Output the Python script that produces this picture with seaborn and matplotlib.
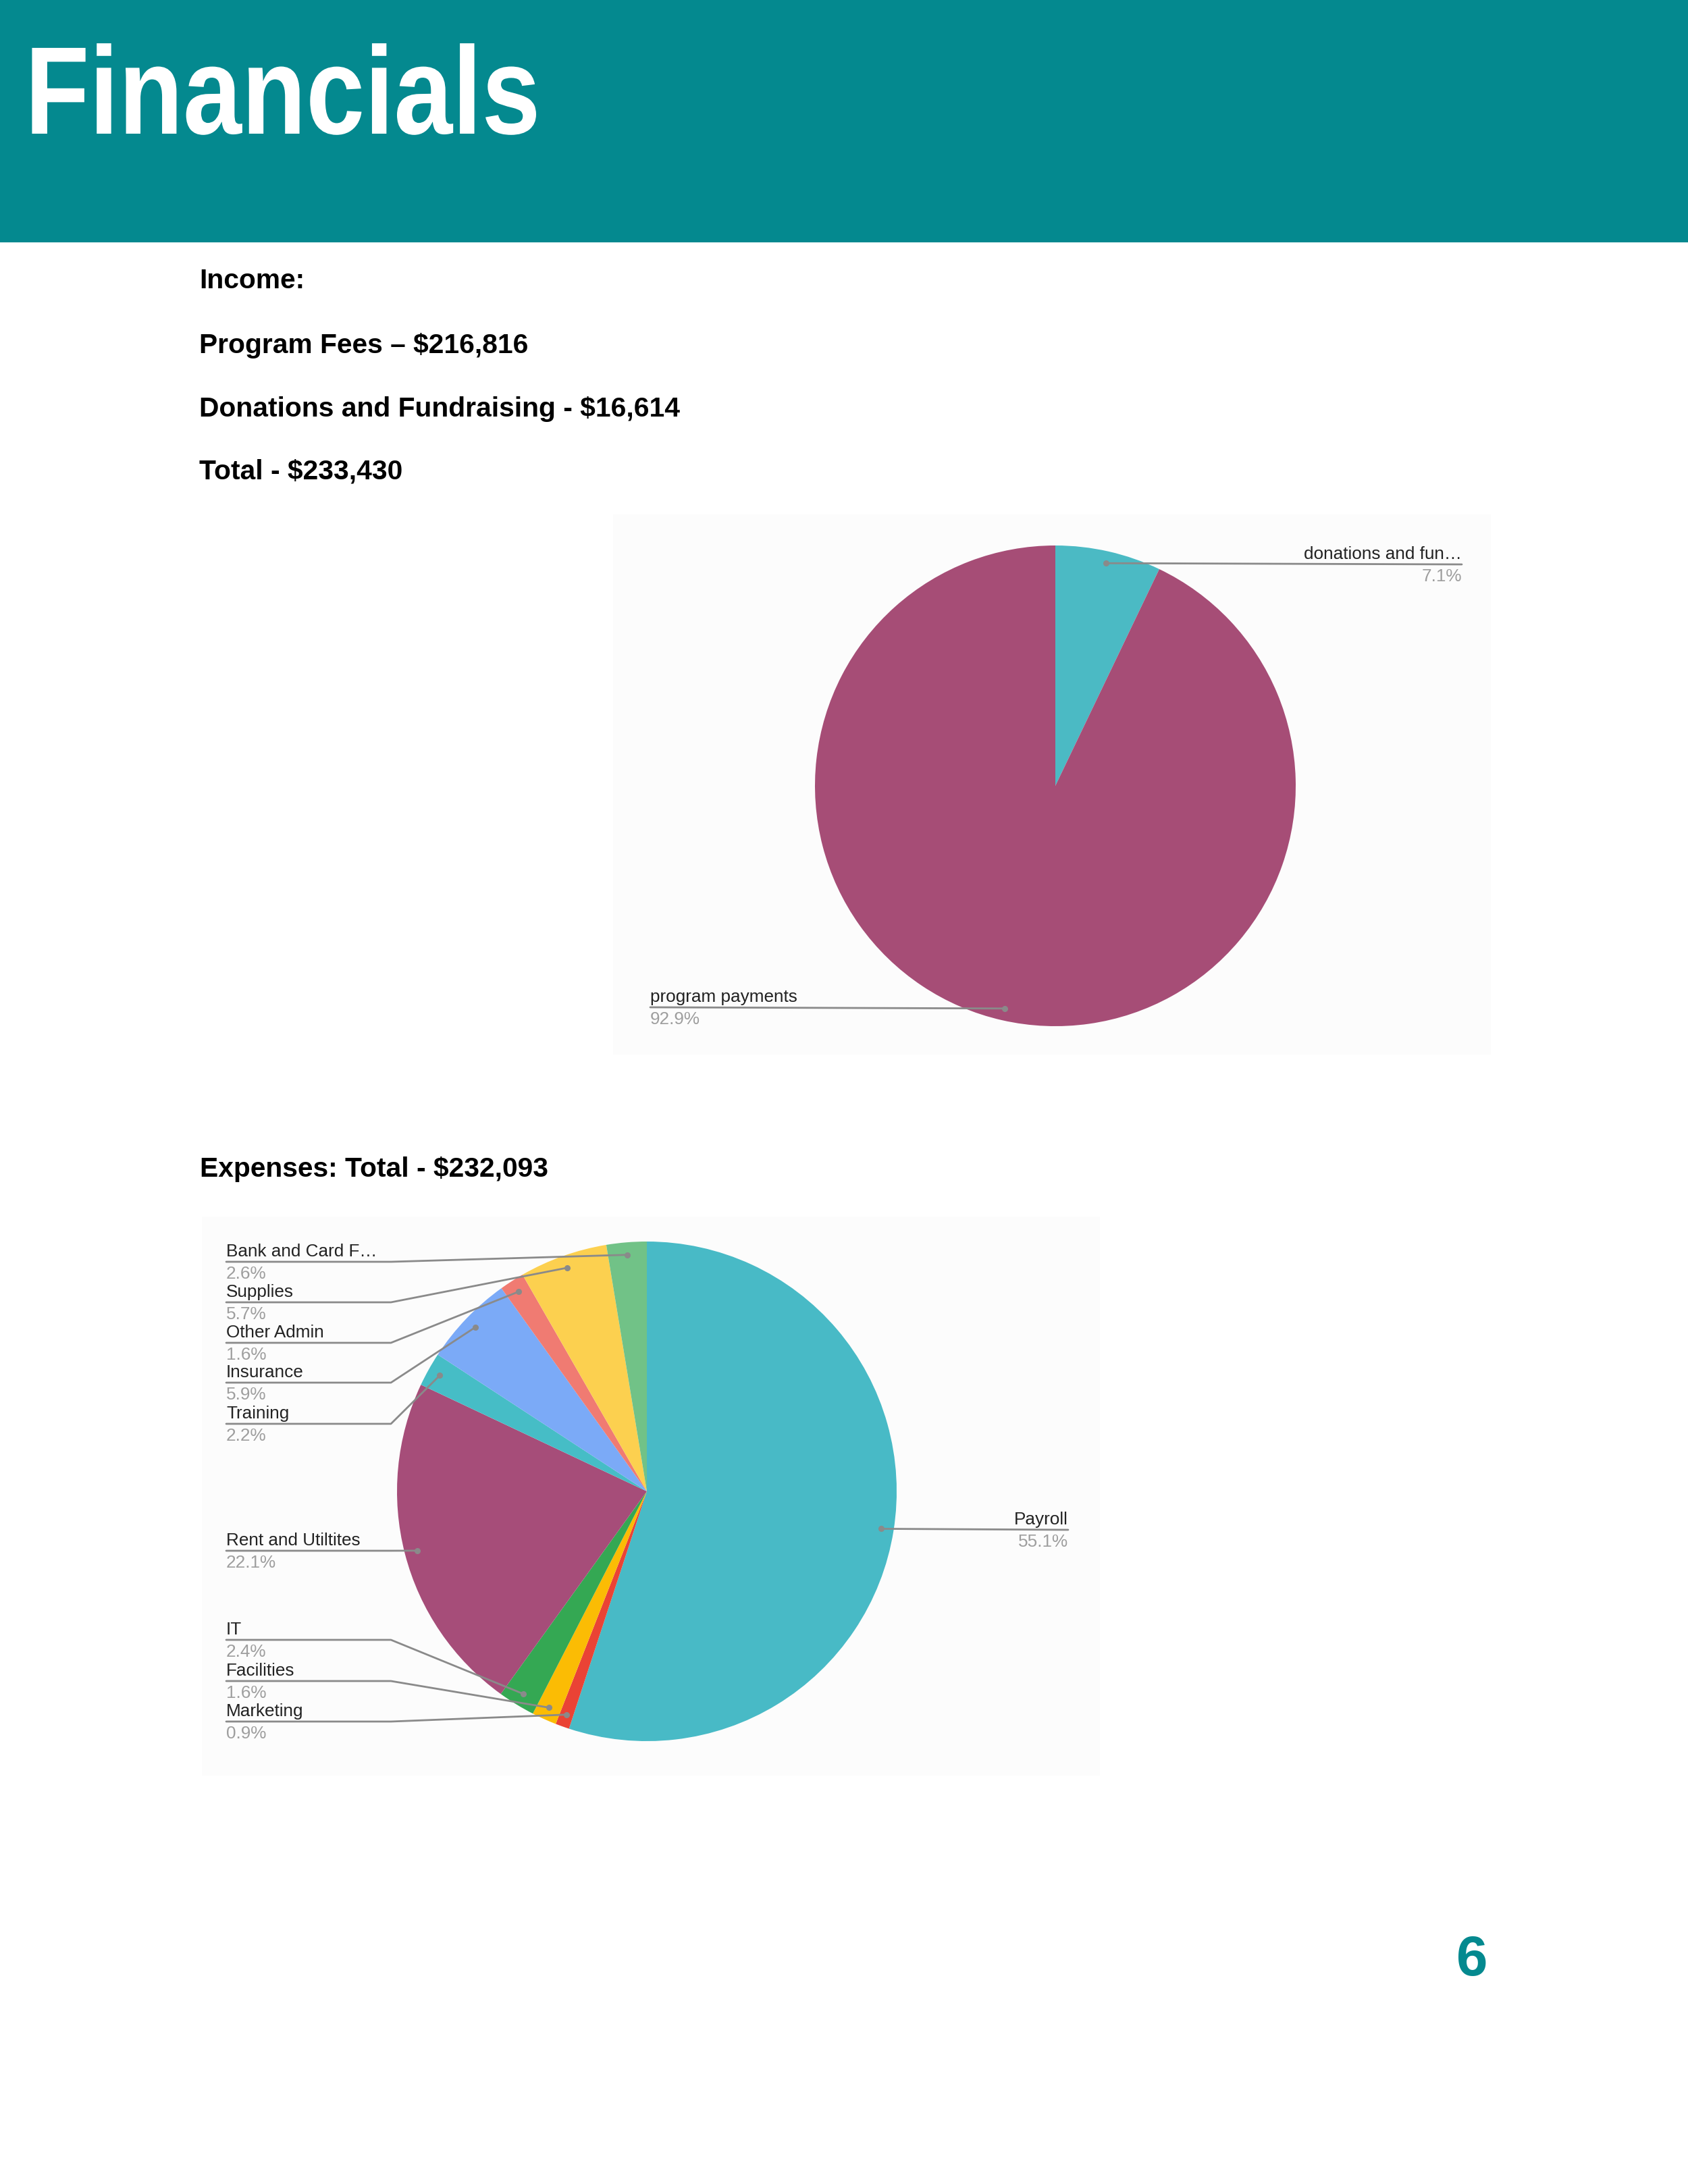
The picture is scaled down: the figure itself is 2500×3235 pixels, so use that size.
import matplotlib
matplotlib.use("Agg")
import matplotlib.pyplot as plt
import matplotlib.patches as mpatches
from matplotlib.patheffects import AbstractPathEffect
from matplotlib.transforms import Affine2D
import seaborn as sns
import numpy as np

# income data
income_labels = ["donations and fun\u2026", "program payments"]
income_values = [16614, 216816]
income_colors = ["#4bbac4", "#a64d76"]

# expenses data (percent of total)
expense_labels = ["Payroll", "Marketing", "Facilities", "IT", "Rent and Utiltites",
                  "Training", "Insurance", "Other Admin", "Supplies", "Bank and Card F\u2026"]
expense_values = [55.1, 0.9, 1.6, 2.4, 22.1, 2.2, 5.9, 1.6, 5.7, 2.6]
expense_colors = ["#48bac6", "#ea4335", "#fbbc04", "#34a853", "#a64d79",
                  "#46bdc6", "#7baaf7", "#f07b72", "#fcd04f", "#71c287"]

header_text = "Financials"
income_lines = ["Income:", "Program Fees \u2013 $216,816",
                "Donations and Fundraising - $16,614", "Total - $233,430"]
expense_heading = "Expenses: Total - $232,093"
page_number = "6"

TEAL = "#04898f"
W, H = 2500, 3235


class Squeeze(AbstractPathEffect):
    # narrow the glyphs horizontally (no condensed font installed)
    def __init__(self, sx):
        super().__init__()
        self.sx = sx

    def draw_path(self, renderer, gc, tpath, affine, rgbFace=None):
        renderer.draw_path(gc, tpath, Affine2D().scale(self.sx, 1) + affine, rgbFace)


sns.set_theme(style="white")
plt.rcParams["font.family"] = ["Liberation Sans", "DejaVu Sans"]

fig = plt.figure(figsize=(W / 100, H / 100), dpi=100)
ax = fig.add_axes([0, 0, 1, 1])


def py(y):
    # page y (from top) -> axes y (from bottom)
    return H - y


# header band
ax.add_patch(mpatches.Rectangle((0, py(359)), W, 359, color=TEAL, lw=0, zorder=1))
ax.text(37, py(198), header_text, color="white", fontsize=133, fontweight="bold",
        ha="left", va="baseline", zorder=2, path_effects=[Squeeze(0.845)])

for txt, yb in zip(income_lines, [427, 523, 617, 709]):
    ax.text(295, py(yb), txt, fontsize=29.3, fontweight="bold", color="black",
            ha="left", va="baseline")
ax.text(296, py(1743), expense_heading, fontsize=29.3, fontweight="bold",
        color="black", ha="left", va="baseline")
ax.text(2180, py(2926), page_number, fontsize=60, fontweight="bold", color=TEAL,
        ha="center", va="baseline")

# faint chart backgrounds
ax.add_patch(mpatches.Rectangle((908, py(1562)), 1300, 800, color="#fcfcfc", lw=0, zorder=0))
ax.add_patch(mpatches.Rectangle((299, py(2630)), 1330, 828, color="#fcfcfc", lw=0, zorder=0))

LINE = "#8a8a8a"
NAME = "#222222"
PCT = "#9e9e9e"


def pie_dots(wedges, center, r):
    dots = []
    for w in wedges:
        mid = np.deg2rad((w.theta1 + w.theta2) / 2)
        dots.append((center[0] + 0.95 * r * np.cos(mid), center[1] + 0.95 * r * np.sin(mid)))
    return dots


def label(x, u, name, pct, ha):
    ax.text(x, py(u - 8), name, fontsize=18.8, color=NAME, ha=ha, va="baseline", zorder=5)
    ax.text(x, py(u + 25), pct, fontsize=18.8, color=PCT, ha=ha, va="baseline", zorder=5)


# income pie
c1, r1 = (1563, py(1164)), 356
w1, _ = ax.pie(income_values, colors=income_colors, startangle=90, counterclock=False,
               center=c1, radius=r1, frame=True, wedgeprops=dict(linewidth=0))
tot1 = sum(income_values)
d1 = pie_dots(w1, c1, r1)
inc_layout = [(2165, 836, "right"), (963, 1492, "left")]
for (x, u, ha), d, name, v in zip(inc_layout, d1, income_labels, income_values):
    ax.plot([d[0], x], [d[1], py(u)], color=LINE, lw=2, zorder=4)
    ax.plot(*d, "o", color=LINE, ms=5.5, zorder=4)
    label(x, u, name, f"{100 * v / tot1:.1f}%", ha)

# expenses pie
c2, r2 = (958, py(2209)), 370
w2, _ = ax.pie(expense_values, colors=expense_colors, startangle=90, counterclock=False,
               center=c2, radius=r2, frame=True, wedgeprops=dict(linewidth=0))
d2 = pie_dots(w2, c2, r2)
exp_underline = [2266, 2550, 2490, 2429, 2297, 2109, 2048, 1989, 1929, 1869]
for i, (d, name, v, u) in enumerate(zip(d2, expense_labels, expense_values, exp_underline)):
    if i == 0:
        ax.plot([d[0], 1582], [d[1], py(u)], color=LINE, lw=2, zorder=4)
        label(1582, u, name, f"{v:.1f}%", "right")
    else:
        ax.plot([335, 579, d[0]], [py(u), py(u), d[1]], color=LINE, lw=2, zorder=4)
        label(335, u, name, f"{v:.1f}%", "left")
    ax.plot(*d, "o", color=LINE, ms=5.5, zorder=4)

ax.set_xlim(0, W)
ax.set_ylim(0, H)
ax.set_aspect("equal")
ax.axis("off")

fig.savefig("out.png", dpi=100, facecolor="white")
